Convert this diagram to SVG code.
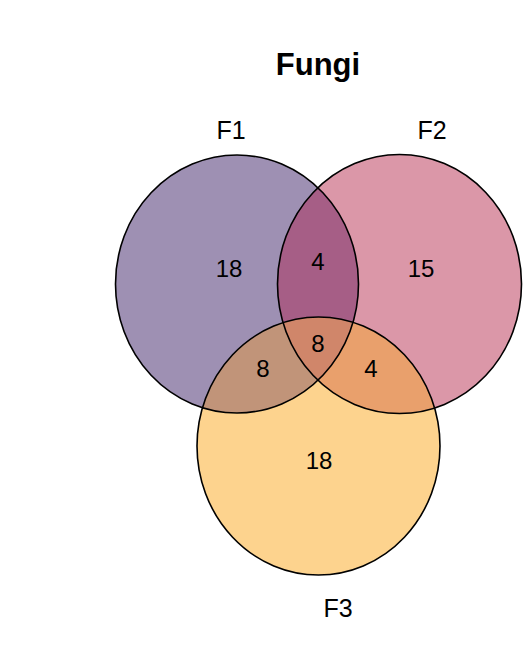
<svg xmlns="http://www.w3.org/2000/svg" width="523" height="650" viewBox="0 0 523 650">
<style>
.lbl{font-family:"Liberation Sans",Arial,sans-serif;fill:#000;text-anchor:middle}
.num{font-size:24px}
.set{font-size:25px}
.title{font-size:31px;font-weight:bold}
.ol{fill:none;stroke:#000;stroke-width:1.6}
</style>
<defs>
<ellipse id="e1" cx="237" cy="284" rx="121.5" ry="129"/>
<ellipse id="e2" cx="399.5" cy="284" rx="122" ry="129.5"/>
<ellipse id="e3" cx="318.5" cy="446" rx="121.5" ry="129"/>
<clipPath id="c1"><use href="#e1"/></clipPath>
<clipPath id="c2"><use href="#e2"/></clipPath>
<clipPath id="c3"><use href="#e3"/></clipPath>
</defs>
<rect width="523" height="650" fill="#fff"/>
<g id="regions">
<use href="#e1" fill="#9e90b3"/>
<use href="#e2" fill="#db97a8"/>
<use href="#e3" fill="#fdd38e"/>
<g clip-path="url(#c1)"><use href="#e2" fill="#a65e86"/></g>
<g clip-path="url(#c1)"><use href="#e3" fill="#c19479"/></g>
<g clip-path="url(#c2)"><use href="#e3" fill="#e9a06c"/></g>
<g clip-path="url(#c1)"><g clip-path="url(#c2)"><use href="#e3" fill="#d0866a"/></g></g>
</g>
<g id="F1"><use href="#e1" class="ol"/><text class="lbl set" x="231" y="139">F1</text></g>
<g id="F2"><use href="#e2" class="ol"/><text class="lbl set" x="432" y="139">F2</text></g>
<g id="F3"><use href="#e3" class="ol"/><text class="lbl set" x="338" y="617">F3</text></g>
<g id="counts">
<text class="lbl num" x="229" y="277">18</text>
<text class="lbl num" x="318" y="270">4</text>
<text class="lbl num" x="421" y="277">15</text>
<text class="lbl num" x="318" y="352">8</text>
<text class="lbl num" x="263" y="377">8</text>
<text class="lbl num" x="371" y="377">4</text>
<text class="lbl num" x="319" y="469">18</text>
</g>
<g id="title"><text class="lbl title" x="318" y="75">Fungi</text></g>
</svg>
